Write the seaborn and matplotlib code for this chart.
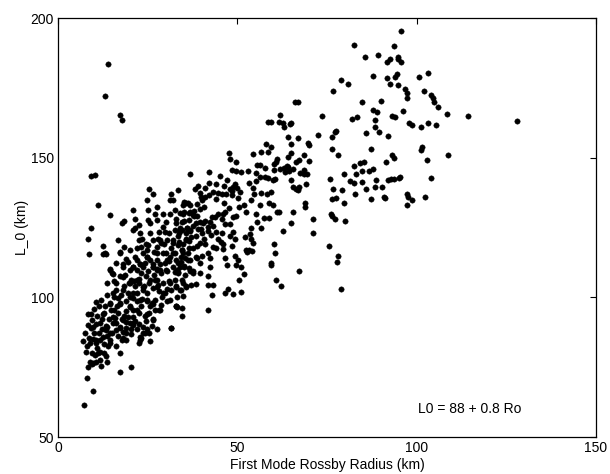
import numpy as np
import pandas as pd
import matplotlib
matplotlib.use("Agg")
import matplotlib.pyplot as plt
import seaborn as sns

# Rossby radius (km) and decorrelation scale L0 (km), grouped by Ro range
ro_a = [7.0, 7.6, 8.0, 7.9, 8.4, 8.1, 7.4, 8.3, 9.1, 9.2, 8.7, 9.4, 9.8, 8.8,
        10.5, 11.0, 10.7, 10.1, 11.5, 11.8, 12.3, 12.9, 12.4, 13.4, 13.7, 14.5, 14.0, 12.9,
        11.3, 11.8, 10.5, 9.6, 12.0, 13.7, 15.0, 12.9, 10.7, 14.2, 14.8, 14.5,
        12.6, 12.6, 13.4, 14.5, 9.5, 10.0, 11.5, 13.0, 12.0, 9.7, 11.0, 13.5, 8.5, 10.2]
l0_a = [84.3, 87.3, 82.6, 80.4, 74.9, 71.3, 61.5, 94.1, 94.1, 89.1, 85.5, 80.2, 66.6, 76.7,
        98.2, 93.3, 90.3, 87.3, 87.3, 84.9, 92.1, 94.4, 88.5, 89.7, 86.1, 87.3, 82.6, 80.2,
        80.2, 77.6, 76.7, 76.0, 75.4, 76.9, 87.3, 83.2, 83.7, 92.1, 95.6, 83.7,
        118.4, 115.5, 115.5, 110.1, 92.0, 96.0, 97.0, 97.0, 99.0, 85.0, 82.0, 79.0, 90.0, 79.5]

ro_b = [16.1, 16.7, 17.2, 15.6, 16.7, 17.8, 18.3, 16.1, 17.2, 18.9, 20.0, 16.7, 17.8, 16.1,
        18.9, 17.2, 17.2, 20.5, 15.7, 17.2, 18.3, 19.4, 20.0, 18.9, 18.1, 17.2, 18.3, 19.4,
        16.7, 17.9, 18.3, 16.1, 15.0, 19.0, 20.0, 19.8, 18.7, 16.5, 15.5, 17.5, 19.6, 20.3,
        18.0, 15.8, 14.5, 13.8]
l0_b = [102.7, 99.8, 98.0, 95.6, 94.4, 92.1, 93.3, 90.9, 89.1, 89.1, 90.9, 86.1, 84.9, 82.6,
        84.9, 80.2, 73.1, 75.0, 105.7, 107.5, 103.9, 101.5, 96.8, 98.6, 111.0, 115.8, 118.1, 112.8,
        120.5, 126.7, 127.4, 112.2, 108.7, 95.0, 100.0, 105.0, 108.0, 97.0, 100.0, 101.0, 93.0, 87.0,
        87.5, 92.5, 98.0, 101.0]

ro_c = [21.0, 21.4, 21.0, 21.6, 22.5, 22.1, 23.2, 21.6, 23.8, 24.3, 24.9, 21.0, 22.1, 23.2,
        20.5, 21.6, 22.7, 23.8, 24.9, 21.0, 22.1, 23.2, 21.0, 22.7, 24.3, 21.6, 22.7, 20.5,
        22.1, 23.8, 24.9, 23.2, 22.7, 25.7, 25.4, 24.6, 25.4, 24.9, 25.4, 24.6, 25.2, 25.1,
        25.1, 24.9, 25.4, 20.8, 22.0, 23.5, 24.0, 25.8, 23.0, 22.5, 21.3, 24.5, 23.5, 22.5]
l0_c = [131.4, 128.2, 124.1, 124.7, 120.5, 117.6, 117.9, 114.6, 115.8, 112.2, 114.6, 111.0, 109.8, 108.7,
        106.3, 103.9, 105.1, 102.7, 101.5, 99.8, 98.6, 96.8, 95.6, 94.4, 93.3, 91.5, 90.3, 88.5,
        88.5, 87.3, 88.5, 85.5, 83.7, 84.3, 87.3, 91.5, 94.4, 98.6, 105.1, 107.5, 109.3, 118.7,
        127.6, 134.8, 138.7, 93.0, 101.5, 99.5, 104.0, 97.0, 112.0, 106.5, 106.0, 119.0, 121.0, 126.0]

ro_d = [26.5, 27.0, 27.6, 28.1, 26.5, 28.7, 26.8, 29.2, 27.6, 29.8, 26.5, 28.7, 30.3, 27.0,
        29.2, 30.9, 26.5, 28.1, 29.8, 27.0, 28.7, 27.0, 26.5, 26.2, 27.6, 30.3, 31.4, 30.9,
        30.3, 31.4, 31.2, 31.4, 29.8, 29.2, 27.5, 28.5, 30.0, 26.8, 29.0, 30.5, 27.8, 26.3,
        28.2, 29.5, 28.0, 31.0, 30.0]
l0_d = [137.1, 130.0, 127.6, 123.5, 120.5, 119.3, 116.4, 115.8, 113.4, 112.2, 111.0, 108.7, 109.3, 106.3,
        105.1, 105.7, 103.3, 102.1, 101.5, 99.2, 97.4, 95.6, 92.1, 89.7, 88.5, 98.6, 102.7, 122.9,
        120.5, 117.6, 134.8, 137.1, 123.5, 130.0, 110.0, 112.0, 116.0, 108.0, 100.0, 103.0, 104.5, 98.0,
        95.5, 119.0, 121.0, 113.0, 127.0]

ro_e = [32.0, 32.5, 33.6, 33.0, 34.7, 32.5, 33.8, 35.6, 32.0, 33.6, 34.7, 36.3, 32.5, 33.6,
        35.2, 36.3, 32.0, 33.6, 34.7, 32.5, 33.0, 34.1, 35.8, 36.9, 33.0, 34.7, 31.4, 35.6,
        36.3, 36.9, 35.2, 34.0, 35.0, 36.0, 33.0, 35.5, 32.5, 34.3, 36.5, 33.2, 35.0]
l0_e = [134.8, 131.4, 138.3, 128.2, 127.0, 124.1, 122.9, 122.9, 120.5, 118.7, 117.0, 115.8, 115.8, 112.2,
        111.0, 113.4, 111.0, 108.7, 106.3, 106.3, 103.9, 102.7, 103.9, 109.3, 96.8, 93.3, 89.1, 133.6,
        133.6, 130.4, 130.4, 125.0, 119.0, 125.0, 113.5, 108.0, 109.0, 114.5, 120.0, 100.0, 100.5]

ro_f = [36.9, 42.0, 41.1, 39.0, 38.3, 39.6, 39.9, 40.9, 40.2, 38.9, 36.8, 35.1, 33.9, 34.9,
        36.4, 37.9, 39.5, 37.8, 38.8, 40.8, 39.7, 38.5, 40.0, 41.9, 40.3, 39.0, 36.6, 35.2,
        35.9, 37.6, 34.7, 36.9, 38.5, 37.1, 40.7, 40.9, 41.8, 42.5, 40.1, 38.8, 39.6, 36.9,
        35.4, 34.4, 34.7, 36.4, 37.6, 38.9, 33.8, 35.6, 33.4, 34.0, 35.2, 36.5, 37.7, 39.7,
        41.7, 41.9, 43.2, 42.9, 41.7, 38.5, 37.1, 35.8, 34.2, 32.9, 33.6, 34.7, 31.4, 33.0]
l0_f = [144.2, 144.7, 139.3, 140.0, 138.8, 137.4, 136.0, 136.0, 134.8, 133.3, 133.1, 134.0, 130.2, 129.7,
        130.2, 131.0, 131.7, 129.1, 129.2, 132.3, 126.8, 126.5, 124.4, 123.6, 122.9, 124.6, 127.6, 127.3,
        125.0, 125.7, 124.1, 123.7, 122.0, 121.5, 120.8, 119.0, 115.8, 114.0, 114.8, 114.0, 112.2, 113.4,
        114.0, 112.8, 117.0, 117.6, 117.7, 118.3, 119.7, 121.0, 122.0, 124.1, 111.3, 110.6, 109.6, 108.7,
        107.5, 104.5, 104.3, 101.0, 95.6, 104.9, 104.5, 103.6, 102.6, 103.7, 109.1, 96.2, 89.1, 96.8]

ro_g = [47.8, 48.0, 49.6, 48.5, 49.7, 51.0, 47.2, 45.3, 44.1, 46.2, 49.4, 48.9, 48.1, 49.9,
        48.6, 48.5, 50.3, 50.7, 46.8, 45.7, 44.5, 43.3, 42.0, 42.2, 44.1, 46.3, 47.8, 50.6,
        49.7, 48.9, 46.5, 44.7, 43.7, 42.9, 41.0, 45.7, 46.7, 48.1, 48.9, 48.1, 49.3, 48.4,
        45.6, 45.4, 46.1, 44.6, 44.1, 43.3, 42.3, 41.8, 42.7, 46.0, 44.1, 46.5, 49.3, 47.0,
        47.3, 46.7, 48.9, 51.0, 50.5, 52.5, 54.2, 53.2]
l0_g = [151.6, 149.7, 148.6, 145.6, 145.2, 145.0, 142.0, 143.4, 140.6, 140.0, 140.6, 139.5, 138.7, 139.3,
        138.1, 136.7, 135.4, 137.8, 137.1, 136.9, 137.2, 137.7, 140.8, 136.7, 135.2, 133.6, 132.1, 132.4,
        129.2, 128.8, 130.5, 130.0, 128.8, 128.8, 127.5, 128.1, 126.2, 126.3, 123.3, 121.8, 120.8, 118.4,
        122.9, 119.9, 119.1, 120.9, 123.3, 125.4, 127.0, 125.1, 122.3, 117.4, 117.6, 114.2, 114.8, 111.6,
        103.0, 101.5, 101.3, 101.9, 106.3, 116.8, 116.5, 117.0]

ro_h = [61.8, 63.0, 62.7, 64.6, 65.0, 66.1, 66.8, 58.7, 59.3, 61.5, 64.2, 65.0, 67.0, 69.7,
        70.0, 70.0, 68.5, 65.1, 64.2, 63.8, 64.2, 64.4, 65.5, 66.3, 67.2, 67.6, 68.5, 69.5,
        69.1, 68.5, 58.0, 59.4, 61.1, 60.7, 60.2, 60.1, 61.9, 63.0, 63.4, 65.0, 65.6, 66.3,
        66.8, 67.1, 68.8, 68.9, 71.0, 71.2, 67.2, 64.9, 65.4, 62.8, 60.2, 60.4, 59.4, 59.4,
        60.7, 62.2, 61.1, 61.7, 59.9, 58.9, 58.3, 59.5, 60.5, 59.9, 58.5, 57.8, 56.6, 56.2,
        56.2, 54.4, 55.5, 55.2, 56.4, 57.8, 56.7, 58.6, 53.1, 55.2, 54.5, 54.7, 53.3, 51.9,
        53.8, 52.5, 55.2, 55.6, 57.4, 58.9, 56.7, 53.7, 53.5, 52.2, 53.7, 54.4, 52.8, 50.1,
        49.7, 51.0, 51.8]
l0_h = [165.4, 161.1, 162.4, 161.9, 162.4, 169.8, 169.8, 162.6, 162.6, 162.6, 157.5, 155.0, 157.2, 155.2,
        154.6, 148.9, 151.0, 151.8, 150.3, 147.1, 146.7, 145.4, 146.0, 148.4, 149.2, 144.6, 144.0, 144.2,
        140.5, 145.6, 154.9, 153.9, 149.6, 148.4, 147.6, 145.6, 145.8, 146.3, 144.8, 141.9, 139.5, 138.8,
        138.6, 139.5, 133.7, 132.4, 128.1, 122.9, 109.6, 126.7, 130.7, 123.8, 119.0, 115.8, 112.2, 111.5,
        106.3, 104.2, 130.6, 130.5, 133.1, 133.9, 136.9, 137.7, 142.3, 142.0, 142.8, 143.1, 137.4, 133.1,
        143.1, 151.2, 147.3, 144.5, 147.4, 146.4, 152.0, 152.1, 145.3, 141.5, 139.0, 136.9, 140.9, 133.1,
        134.8, 130.6, 130.0, 126.8, 128.4, 128.5, 124.8, 125.0, 122.7, 121.7, 120.8, 119.6, 116.1, 113.4,
        111.6, 111.0, 108.4]

ro_i = [95.6, 82.4, 93.6, 85.5, 89.2, 91.7, 92.5, 94.9, 95.6, 94.8, 87.7, 91.6, 92.5, 94.5,
        94.1, 94.9, 79.0, 81.0, 76.8, 100.7, 103.3, 96.8, 97.3, 97.4, 102.0, 104.0, 104.7, 104.9,
        105.9, 108.5, 114.4, 128.0, 84.7, 90.0, 87.9, 88.9, 88.4, 93.2, 94.1, 96.3, 82.1, 83.4,
        97.8, 98.7, 101.2, 103.1, 105.3, 73.5, 72.4, 76.4, 77.2, 77.6, 86.0, 88.4, 89.4, 92.1,
        76.3, 78.2, 101.6, 101.2, 102.9, 108.8, 93.1, 93.6, 75.9, 79.7, 82.4, 83.0, 84.3, 85.3,
        84.7, 87.2, 88.8, 91.4, 92.1, 93.8, 95.1, 95.5, 92.9, 87.9, 86.7, 82.4, 84.8, 86.0,
        88.4, 90.3, 76.6, 79.2, 77.6, 76.3, 79.7, 76.1, 77.3, 76.3, 79.9, 81.4, 82.9, 87.4,
        90.8, 91.1, 97.2, 97.5, 97.4, 98.7, 102.4, 104.1, 75.6, 78.0, 77.9, 78.8]
l0_i = [195.5, 190.3, 190.0, 186.1, 186.7, 184.1, 185.4, 186.0, 184.1, 185.5, 179.1, 178.4, 176.5, 180.0,
        178.8, 176.0, 177.9, 176.5, 173.9, 178.9, 180.2, 174.6, 173.0, 171.2, 173.9, 172.4, 171.3, 170.0,
        168.2, 165.6, 164.8, 163.0, 170.1, 170.3, 167.1, 166.4, 163.5, 164.9, 164.7, 166.8, 163.7, 164.5,
        162.3, 161.8, 160.9, 162.3, 161.7, 164.9, 158.0, 157.5, 159.1, 159.4, 158.7, 160.9, 159.3, 157.9,
        153.1, 150.9, 153.7, 152.9, 149.2, 150.8, 150.8, 149.8, 142.3, 144.0, 147.0, 144.1, 148.0, 148.5,
        145.4, 153.0, 142.1, 148.3, 142.0, 142.3, 142.8, 143.1, 142.3, 145.8, 145.3, 140.9, 141.3, 138.7,
        139.4, 139.5, 138.8, 138.3, 135.6, 135.1, 133.7, 129.9, 128.2, 129.1, 127.5, 141.5, 137.1, 135.2,
        135.9, 135.7, 137.1, 136.1, 133.1, 135.0, 135.9, 142.6, 118.3, 114.8, 112.8, 103.0]

# densest part of the cloud, small Ro
ro_j = [13.1, 14.5, 17.3, 19.1, 21.0, 22.8, 24.7, 26.6, 28.4, 30.3, 32.1, 33.1, 18.2, 16.3,
        20.1, 21.9, 23.8, 25.6, 27.5, 29.4, 31.2, 33.1, 13.6, 15.4, 18.2, 21.0, 22.8, 24.7,
        26.6, 28.4, 14.5, 17.3, 20.1, 21.9, 24.7, 26.6, 12.6, 15.4, 18.2, 21.0, 23.8, 13.6,
        16.3, 19.1, 22.8,
        27.5, 31.2, 34.9, 37.7, 29.3, 33.0, 36.7, 40.5, 28.4, 32.1, 35.8, 39.5, 43.3, 27.5,
        31.2, 34.9, 38.6, 26.5, 30.2, 34.0, 37.7, 27.5, 31.2, 34.9, 42.3, 46.0,
        25.1, 25.6, 22.8, 25.6, 20.0, 24.7, 27.5, 21.9, 25.6, 18.2, 15.4, 20.0, 23.8, 27.5,
        9.8, 11.7, 13.5, 15.4, 17.2, 19.1, 21.0, 8.9, 10.7, 12.6, 14.5, 18.2, 22.8, 24.2,
        11.7, 9.8]
l0_j = [115.7, 109.7, 116.3, 113.9, 110.9, 112.1, 114.5, 112.1, 109.7, 113.3, 115.7, 109.7, 107.4, 105.0,
        105.0, 106.2, 103.8, 106.2, 103.8, 101.4, 99.0, 96.6, 105.0, 101.4, 102.6, 101.4, 99.0, 99.0,
        97.8, 95.4, 97.8, 97.8, 96.6, 95.4, 94.2, 91.8, 94.2, 93.0, 91.8, 90.7, 89.5, 89.5,
        88.3, 87.1, 85.9,
        132.4, 130.0, 133.0, 129.4, 125.3, 126.5, 124.1, 126.5, 120.5, 119.3, 120.5, 119.3, 118.1, 115.7,
        114.5, 115.7, 114.5, 110.9, 109.7, 110.9, 108.6, 106.2, 105.0, 105.0, 110.9, 130.0,
        131.2, 126.5, 122.9, 122.9, 116.9, 116.9, 118.1, 113.3, 113.3, 112.1, 108.5, 109.7, 110.9, 109.7,
        89.5, 90.7, 88.3, 90.7, 89.5, 91.3, 90.1, 83.5, 84.7, 85.9, 84.7, 85.3, 84.7, 87.1,
        80.6, 76.4]

# isolated points at small Ro with large L0
ro_out = [14.0, 13.0, 17.3, 17.8, 9.2, 10.3, 11.1, 14.5, 9.3, 8.4, 8.7]
l0_out = [183.6, 172.1, 165.3, 163.6, 143.4, 143.7, 132.9, 129.6, 124.8, 120.8, 115.6]

ro = ro_a + ro_b + ro_c + ro_d + ro_e + ro_f + ro_g + ro_h + ro_i + ro_j + ro_out
l0 = l0_a + l0_b + l0_c + l0_d + l0_e + l0_f + l0_g + l0_h + l0_i + l0_j + l0_out
df = pd.DataFrame({"Ro": ro, "L0": l0})

sns.set_theme(style="white")
plt.rcParams["font.family"] = ["Liberation Sans", "DejaVu Sans"]

fig = plt.figure(figsize=(6.10, 4.74), dpi=100)
ax = fig.add_axes([0.095, 0.078, 0.882, 0.884])

sns.scatterplot(data=df, x="Ro", y="L0", ax=ax, color="black", s=15,
                edgecolor="black", linewidth=0.3, legend=False)

ax.set_xlim(0, 150)
ax.set_ylim(50, 200)
ax.set_xticks([0, 50, 100, 150])
ax.set_yticks([50, 100, 150, 200])
ax.tick_params(direction="in", length=4, width=0.8, top=True, right=True,
               labelsize=10, colors="black", pad=3)
for sp in ax.spines.values():
    sp.set_color("black")
    sp.set_linewidth(0.9)

ax.set_xlabel("First Mode Rossby Radius (km)", fontsize=10, labelpad=2, color="black")
ax.set_ylabel("L_0 (km)", fontsize=10, labelpad=1, color="black")
ax.text(100.4, 60, "L0 = 88 + 0.8 Ro", fontsize=10, ha="left", va="center", color="black")

fig.savefig("out.png", dpi=100, facecolor="white")
